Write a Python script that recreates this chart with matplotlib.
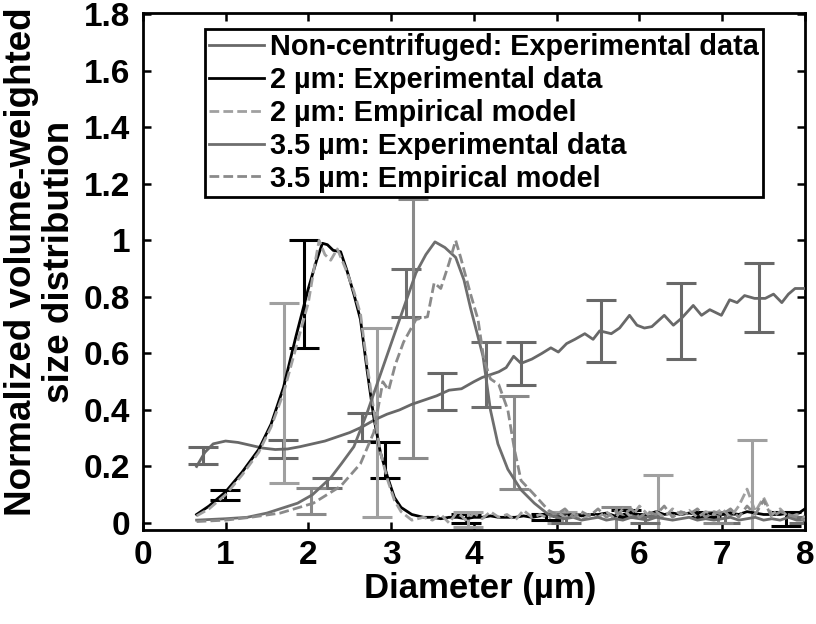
import matplotlib
matplotlib.use("Agg")
import matplotlib.pyplot as plt
import numpy as np
from matplotlib.ticker import FuncFormatter

plt.rcParams['font.family'] = ['Liberation Sans', 'DejaVu Sans']
plt.rcParams['font.weight'] = 'bold'

# ---------------- data ----------------
# Non-centrifuged experimental data
nc_x = [0.65, 0.75, 0.85, 1.0, 1.15, 1.3, 1.45, 1.6, 1.75, 1.9,
        2.05, 2.2, 2.35, 2.5, 2.65, 2.8, 2.95, 3.1, 3.25, 3.4,
        3.55, 3.7, 3.85, 4.0, 4.1, 4.2, 4.3, 4.39, 4.48, 4.57,
        4.7, 4.82, 4.93, 5.02, 5.12, 5.22, 5.34, 5.44, 5.52, 5.66,
        5.76, 5.88, 5.97, 6.06, 6.15, 6.3, 6.41, 6.51, 6.65, 6.75,
        6.85, 6.99, 7.09, 7.18, 7.27, 7.39, 7.52, 7.62, 7.72, 7.8,
        7.88, 8.0]
nc_y = [0.20, 0.25, 0.28, 0.29, 0.285, 0.275, 0.265, 0.26, 0.262, 0.27,
        0.28, 0.29, 0.305, 0.32, 0.34, 0.365, 0.385, 0.40, 0.42, 0.435,
        0.45, 0.47, 0.475, 0.50, 0.515, 0.525, 0.535, 0.55, 0.59, 0.565,
        0.58, 0.60, 0.62, 0.605, 0.635, 0.65, 0.67, 0.65, 0.68, 0.67,
        0.69, 0.735, 0.70, 0.69, 0.695, 0.735, 0.70, 0.725, 0.77, 0.735,
        0.755, 0.735, 0.79, 0.78, 0.805, 0.795, 0.795, 0.81, 0.78, 0.81,
        0.83, 0.83]
nc_bar_x = [0.73, 1.69, 2.65, 3.62, 4.57, 5.53, 6.5, 7.45]
nc_bar_lo = [0.21, 0.23, 0.29, 0.40, 0.49, 0.57, 0.58, 0.675]
nc_bar_hi = [0.27, 0.295, 0.39, 0.53, 0.64, 0.79, 0.85, 0.92]

# 2 um experimental data
e2_x = [0.65, 0.8, 1.0, 1.2, 1.4, 1.55, 1.7, 1.85, 2.0, 2.1,
        2.17, 2.23, 2.3, 2.39, 2.47, 2.55, 2.63, 2.71, 2.79, 2.87,
        2.96, 3.04, 3.12, 3.25, 3.39,
        3.5, 3.6, 3.7, 3.8, 3.9, 4.0, 4.1, 4.2, 4.3, 4.4,
        4.5, 4.6, 4.7, 4.8, 4.9, 5.0, 5.1, 5.2, 5.3, 5.4,
        5.5, 5.6, 5.7, 5.8, 5.9, 6.0, 6.1, 6.2, 6.3, 6.4,
        6.5, 6.6, 6.7, 6.8, 6.9, 7.0, 7.1, 7.2, 7.3, 7.4,
        7.5, 7.6, 7.7, 7.8, 7.9, 8.0]
e2_y = [0.03, 0.06, 0.11, 0.18, 0.26, 0.35, 0.48, 0.66, 0.83, 0.93,
        0.99, 0.985, 0.965, 0.96, 0.89, 0.81, 0.72, 0.54, 0.375, 0.25,
        0.16, 0.09, 0.055, 0.03, 0.02,
        0.02, 0.015, 0.02, 0.02, 0.015, 0.02, 0.02, 0.025, 0.02, 0.02,
        0.02, 0.025, 0.02, 0.025, 0.03, 0.02, 0.025, 0.03, 0.025, 0.03,
        0.03, 0.035, 0.025, 0.03, 0.035, 0.03, 0.03, 0.04, 0.03, 0.035,
        0.03, 0.035, 0.03, 0.03, 0.035, 0.03, 0.035, 0.03, 0.04, 0.035,
        0.03, 0.03, 0.03, 0.035, 0.03, 0.05]
e2_bar_x = [0.99, 1.95, 2.93, 3.9, 4.87, 5.84, 6.8, 7.77]
e2_bar_lo = [0.08, 0.62, 0.16, 0.0, 0.01, 0.02, 0.02, -0.01]
e2_bar_hi = [0.115, 1.0, 0.285, 0.03, 0.03, 0.045, 0.04, 0.04]

# 2 um empirical model
m2_x = [0.65, 0.8, 1.0, 1.2, 1.4, 1.55, 1.7, 1.85, 2.0, 2.08,
        2.13, 2.2, 2.27, 2.35, 2.45, 2.55, 2.63, 2.71, 2.79, 2.87,
        2.96, 3.04, 3.12, 3.25, 3.39,
        3.5, 3.6, 3.7, 3.8, 3.9, 4.0, 4.1, 4.2, 4.3, 4.4,
        4.5, 4.6, 4.7, 4.8, 4.9, 5.0, 5.1, 5.2, 5.3, 5.4,
        5.5, 5.6, 5.7, 5.8, 5.9, 6.0, 6.1, 6.2, 6.3, 6.4,
        6.5, 6.6, 6.7, 6.8, 6.9, 7.0, 7.1, 7.2, 7.3, 7.4,
        7.5, 7.6, 7.7, 7.8, 7.9, 8.0]
m2_y = [0.025, 0.05, 0.10, 0.17, 0.25, 0.34, 0.46, 0.62, 0.78, 0.92,
        1.0, 0.95, 0.93, 0.97, 0.90, 0.82, 0.74, 0.56, 0.40, 0.25,
        0.15, 0.08, 0.04, 0.01, 0.02,
        0.01, 0.03, 0.0, 0.04, 0.01, 0.035, 0.015, 0.04, 0.02, 0.03,
        0.01, 0.045, 0.02, 0.03, 0.015, 0.04, 0.02, 0.035, 0.01, 0.03,
        0.02, 0.04, 0.015, 0.05, 0.02, 0.06, 0.03, 0.04, 0.02, 0.05,
        0.03, 0.045, 0.02, 0.04, 0.03, 0.05, 0.02, 0.06, 0.12, 0.04,
        0.09, 0.03, 0.05, 0.02, 0.03, 0.02]
m2_bar_x = [1.70, 2.83, 3.93, 5.07, 6.22, 7.36]
m2_bar_lo = [0.14, 0.02, -0.015, 0.0, -0.03, -0.03]
m2_bar_hi = [0.78, 0.69, 0.04, 0.04, 0.17, 0.295]

# 3.5 um experimental data
e35_x = [0.65, 1.0, 1.26, 1.5, 1.87, 2.05, 2.27, 2.4, 2.55, 2.71,
         2.84, 3.03, 3.15, 3.3, 3.42, 3.53, 3.65, 3.78, 3.88, 3.96,
         4.04, 4.11, 4.2, 4.29, 4.41, 4.57, 4.73, 4.9,
         5.0, 5.1, 5.2, 5.3, 5.4, 5.5, 5.6, 5.7, 5.8, 5.9,
         6.0, 6.1, 6.2, 6.3, 6.4, 6.5, 6.6, 6.7, 6.8, 6.9,
         7.0, 7.1, 7.2, 7.3, 7.4, 7.5, 7.6, 7.7, 7.8, 7.9,
         8.0]
e35_y = [0.01, 0.015, 0.02, 0.035, 0.07, 0.10, 0.16, 0.21, 0.27, 0.39,
         0.50, 0.66, 0.76, 0.885, 0.95, 0.995, 0.975, 0.94, 0.86, 0.76,
         0.67, 0.59, 0.40, 0.28, 0.19, 0.117, 0.07, 0.03,
         0.02, 0.015, 0.02, 0.01, 0.015, 0.02, 0.01, 0.015, 0.01, 0.02,
         0.015, 0.01, 0.02, 0.015, 0.01, 0.015, 0.02, 0.01, 0.015, 0.01,
         0.015, 0.02, 0.01, 0.015, 0.02, 0.01, 0.015, 0.01, 0.02, 0.01,
         0.01]
e35_bar_x = [2.23, 3.18, 4.15, 5.11, 6.07, 7.03, 7.99]
e35_bar_lo = [0.125, 0.73, 0.41, 0.0, 0.0, 0.0, 0.0]
e35_bar_hi = [0.16, 0.90, 0.64, 0.03, 0.025, 0.03, 0.02]

# 3.5 um empirical model
m35_x = [0.65, 1.0, 1.3, 1.66, 2.06, 2.39, 2.63, 2.79, 2.9, 2.97,
         3.05, 3.15, 3.3, 3.44, 3.52, 3.6, 3.7, 3.78, 3.84, 3.96,
         4.05, 4.12, 4.2, 4.3, 4.41, 4.49, 4.57, 4.73, 4.9,
         5.0, 5.1, 5.2, 5.3, 5.4, 5.5, 5.6, 5.7, 5.8, 5.9,
         6.0, 6.1, 6.2, 6.3, 6.4, 6.5, 6.6, 6.7, 6.8, 6.9,
         7.0, 7.1, 7.2, 7.3, 7.4, 7.5, 7.6, 7.7, 7.8, 7.9,
         8.0]
m35_y = [0.005, 0.01, 0.02, 0.035, 0.07, 0.13, 0.21, 0.32, 0.50, 0.47,
         0.56, 0.64, 0.72, 0.73, 0.85, 0.83, 0.92, 1.0, 0.94, 0.81,
         0.72, 0.58, 0.51, 0.49, 0.40, 0.26, 0.15, 0.10, 0.045,
         0.03, 0.05, 0.02, 0.04, 0.025, 0.05, 0.02, 0.04, 0.03, 0.05,
         0.02, 0.04, 0.03, 0.06, 0.02, 0.04, 0.03, 0.05, 0.02, 0.04,
         0.03, 0.05, 0.02, 0.06, 0.03, 0.08, 0.02, 0.04, 0.03, 0.02,
         0.01]
m35_bar_x = [2.03, 3.26, 4.49, 5.72, 6.95]
m35_bar_lo = [0.03, 0.23, 0.12, -0.025, 0.0]
m35_bar_hi = [0.125, 1.147, 0.45, 0.057, 0.04]

labels = ["Non-centrifuged: Experimental data",
          "2 \u00b5m: Experimental data",
          "2 \u00b5m: Empirical model",
          "3.5 \u00b5m: Experimental data",
          "3.5 \u00b5m: Empirical model"]

# ---------------- styles ----------------
c_nc = '#686868'
c_e2 = '#000000'
c_m2 = '#a0a0a0'
c_e35 = '#6e6e6e'
c_m35 = '#8a8a8a'
lw = 2.0
dash = (3.5, 1.5)

fig = plt.figure(figsize=(8.16, 6.24), dpi=100)
ax = fig.add_axes([0.175, 0.1506, 0.8115, 0.8285])


def bars(x, lo, hi, color):
    x = np.asarray(x)
    lo = np.asarray(lo)
    hi = np.asarray(hi)
    mid = (lo + hi) / 2
    ax.errorbar(x, mid, yerr=[mid - lo, hi - mid], fmt='none', ecolor=color,
                elinewidth=2.2, capsize=11, capthick=2.2, zorder=2)


bars(nc_bar_x, nc_bar_lo, nc_bar_hi, c_nc)
bars(e2_bar_x, e2_bar_lo, e2_bar_hi, c_e2)
bars(m2_bar_x, m2_bar_lo, m2_bar_hi, c_m2)
bars(e35_bar_x, e35_bar_lo, e35_bar_hi, c_e35)
bars(m35_bar_x, m35_bar_lo, m35_bar_hi, c_m35)

ax.plot(nc_x, nc_y, color=c_nc, lw=lw, label=labels[0], zorder=3)
ax.plot(e2_x, e2_y, color=c_e2, lw=lw, label=labels[1], zorder=3)
ax.plot(m2_x, m2_y, color=c_m2, lw=lw, dashes=dash, label=labels[2], zorder=3)
ax.plot(e35_x, e35_y, color=c_e35, lw=lw, label=labels[3], zorder=3)
ax.plot(m35_x, m35_y, color=c_m35, lw=lw, dashes=dash, label=labels[4], zorder=3)

ax.set_xlim(0, 8)
ax.set_ylim(-0.025, 1.805)
ax.set_xticks(np.arange(0, 9, 1))
ax.set_yticks([0, 0.2, 0.4, 0.6, 0.8, 1.0, 1.2, 1.4, 1.6, 1.8])
ax.yaxis.set_major_formatter(FuncFormatter(lambda v, p: '%g' % round(v, 2)))
ax.tick_params(direction='in', length=6, width=1.8, top=True, right=True,
               labelsize=24)
ax.tick_params(axis='y', pad=9)
ax.tick_params(axis='x', pad=7)
for lab in ax.get_xticklabels() + ax.get_yticklabels():
    lab.set_fontweight('bold')
for s in ax.spines.values():
    s.set_linewidth(2.0)

ax.set_xlabel("Diameter (\u00b5m)", fontsize=25, fontweight='bold')
ax.xaxis.set_label_coords(0.509, -0.082)
ax.set_ylabel("Normalized volume-weighted\nsize distribution", fontsize=26.5,
              fontweight='bold', linespacing=1.08)
ax.yaxis.set_label_coords(-0.1, 0.519)

leg = ax.legend(loc='upper left', bbox_to_anchor=(0.094, 0.969),
                borderaxespad=0, frameon=True, fancybox=False,
                edgecolor='black', handlelength=1.9, handletextpad=0.2,
                labelspacing=0.166, borderpad=0.15,
                prop={'weight': 'bold', 'size': 20.8})
leg.get_frame().set_linewidth(2.0)
leg.get_frame().set_alpha(1)

fig.savefig("out.png", dpi=100)
